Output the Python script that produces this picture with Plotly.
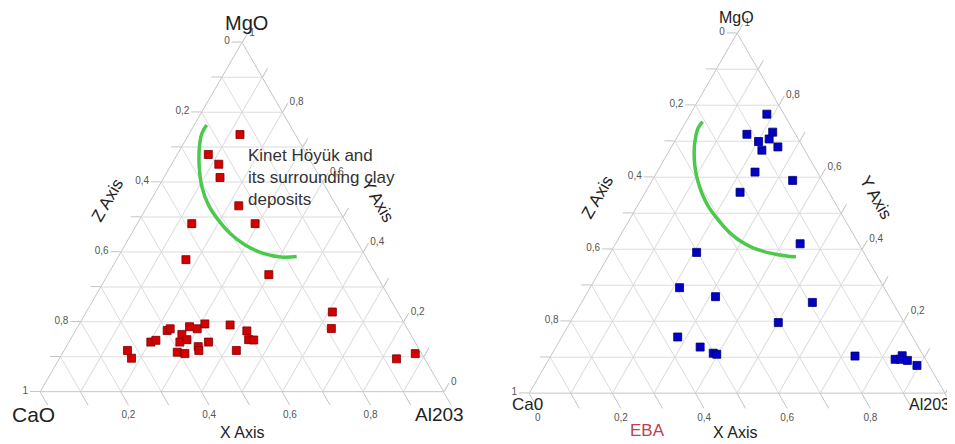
import plotly.graph_objects as go

# ---------------- data (fractions) ----------------
# Left panel: Kinet Höyük samples (red)
kh_mgo = [0.736, 0.679, 0.651, 0.613, 0.532, 0.481, 0.481, 0.378, 0.335, 0.228, 0.181, 0.094, 0.109,
          0.118, 0.096, 0.142, 0.147, 0.175, 0.180, 0.164, 0.142, 0.149, 0.186, 0.180, 0.194,
          0.113, 0.109, 0.129, 0.118, 0.142, 0.191, 0.174, 0.149, 0.148, 0.118]
kh_al2o3 = [0.127, 0.077, 0.117, 0.139, 0.226, 0.135, 0.292, 0.172, 0.399, 0.610, 0.631, 0.836, 0.875,
            0.157, 0.178, 0.203, 0.213, 0.227, 0.232, 0.269, 0.275, 0.289, 0.277, 0.299, 0.311,
            0.283, 0.304, 0.327, 0.334, 0.346, 0.375, 0.425, 0.442, 0.455, 0.427]
kh_cao = [0.137, 0.244, 0.232, 0.248, 0.242, 0.384, 0.227, 0.450, 0.266, 0.162, 0.188, 0.070, 0.016,
          0.725, 0.726, 0.655, 0.640, 0.598, 0.588, 0.567, 0.583, 0.562, 0.537, 0.521, 0.495,
          0.604, 0.587, 0.544, 0.548, 0.512, 0.434, 0.401, 0.409, 0.397, 0.455]

# Right panel: EBA samples (blue)
eba_mgo = [0.775, 0.719, 0.725, 0.699, 0.706, 0.675, 0.684, 0.614, 0.591, 0.558, 0.415, 0.391, 0.293,
           0.268, 0.252, 0.196, 0.156, 0.128, 0.111, 0.108, 0.103, 0.094, 0.104, 0.094, 0.091, 0.077]
eba_al2o3 = [0.184, 0.164, 0.223, 0.202, 0.224, 0.222, 0.256, 0.236, 0.338, 0.228, 0.444, 0.207, 0.215,
             0.314, 0.555, 0.501, 0.279, 0.347, 0.387, 0.397, 0.732, 0.833, 0.845, 0.845, 0.864, 0.894]
eba_cao = [0.041, 0.117, 0.052, 0.099, 0.070, 0.103, 0.060, 0.150, 0.071, 0.214, 0.141, 0.402, 0.492,
           0.418, 0.193, 0.303, 0.565, 0.525, 0.502, 0.495, 0.165, 0.073, 0.051, 0.061, 0.045, 0.029]

# Hand-drawn green boundary curves
left_curve_mgo = [0.763, 0.739, 0.701, 0.644, 0.587, 0.534, 0.491, 0.453, 0.420, 0.396, 0.385, 0.387]
left_curve_al2o3 = [0.031, 0.031, 0.044, 0.072, 0.107, 0.150, 0.196, 0.244, 0.298, 0.354, 0.410, 0.442]
left_curve_cao = [0.206, 0.230, 0.255, 0.284, 0.306, 0.316, 0.313, 0.303, 0.282, 0.250, 0.205, 0.171]

right_curve_mgo = [0.754, 0.736, 0.704, 0.667, 0.629, 0.593, 0.556, 0.518, 0.486, 0.454, 0.426, 0.403, 0.389, 0.381, 0.379]
right_curve_al2o3 = [0.040, 0.038, 0.047, 0.063, 0.084, 0.108, 0.137, 0.172, 0.208, 0.248, 0.290, 0.338, 0.385, 0.428, 0.452]
right_curve_cao = [0.206, 0.226, 0.249, 0.270, 0.287, 0.299, 0.307, 0.310, 0.306, 0.298, 0.284, 0.259, 0.226, 0.191, 0.169]

# Ticks (labels read as in the original, which runs opposite to plotly's orientation)
tick_values = [0, 0.1, 0.2, 0.3, 0.4, 0.5, 0.6, 0.7, 0.8, 0.9, 1.0]
tick_labels = ["1", "", "0,8", "", "0,6", "", "0,4", "", "0,2", "", "0"]
tick_labels_left_bottom = ["", "", "0,8", "", "0,6", "", "0,4", "", "0,2", "", ""]
tick_labels_right_side = ["1", "", "0,8", "", "0,6", "", "0,4", "", "0,2", "", ""]

FONT = "Liberation Sans, Arial, sans-serif"
GRID = "#dcdcdc"
LINE = "#c4c4c4"

# the page body adds an 8px margin; the figure is sized/positioned to compensate
OFF = 8
W, H = 955 - OFF, 444 - OFF


def px_x(x):
    return (x - OFF) / W


def px_y(y):
    return 1 - (y - OFF) / H


fig = go.Figure()

fig.add_trace(go.Scatterternary(
    a=left_curve_mgo, b=left_curve_cao, c=left_curve_al2o3, subplot="ternary",
    mode="lines", line=dict(color="#4cc94c", width=3.5, shape="spline"),
    hoverinfo="skip", showlegend=False))
fig.add_trace(go.Scatterternary(
    a=kh_mgo, b=kh_cao, c=kh_al2o3, subplot="ternary",
    mode="markers", marker=dict(symbol="square", size=8, color="#d40000",
                                line=dict(color="#7a0000", width=0.8)),
    showlegend=False))

fig.add_trace(go.Scatterternary(
    a=right_curve_mgo, b=right_curve_cao, c=right_curve_al2o3, subplot="ternary2",
    mode="lines", line=dict(color="#4cc94c", width=3.5, shape="spline"),
    hoverinfo="skip", showlegend=False))
fig.add_trace(go.Scatterternary(
    a=eba_mgo, b=eba_cao, c=eba_al2o3, subplot="ternary2",
    mode="markers", marker=dict(symbol="square", size=8, color="#0000c8",
                                line=dict(color="#00006a", width=0.8)),
    showlegend=False))


def axis(labels, ticklen=10):
    return dict(
        tickmode="array", tickvals=tick_values, ticktext=labels,
        ticks="outside", ticklen=ticklen, tickcolor=LINE, tickwidth=1,
        tickfont=dict(family=FONT, size=10, color="#555"),
        showgrid=True, gridcolor=GRID, gridwidth=1,
        showline=True, linecolor=LINE, linewidth=1, title=dict(text=""),
    )


fig.update_layout(
    width=W, height=H,
    margin=dict(l=0, r=0, t=0, b=0),
    paper_bgcolor="white",
    font=dict(family=FONT, color="#222"),
    ternary=dict(
        sum=1, bgcolor="white",
        domain=dict(x=[px_x(40), px_x(444)], y=[px_y(391.7), px_y(42.3)]),
        aaxis=axis(tick_labels), baxis=axis(tick_labels_left_bottom, 15), caxis=axis(tick_labels),
    ),
    ternary2=dict(
        sum=1, bgcolor="white",
        domain=dict(x=[px_x(529.3), px_x(945)], y=[px_y(393.3), px_y(33)]),
        aaxis=axis(tick_labels), baxis=axis(tick_labels, 17), caxis=axis(tick_labels_right_side),
    ),
)

ann = []


def text(x, y, s, size, angle=0, color="#222", xanchor="center", yanchor="middle", align="center"):
    ann.append(dict(x=px_x(x), y=px_y(y), xref="paper", yref="paper", text=s,
                    showarrow=False, textangle=angle, xanchor=xanchor, yanchor=yanchor,
                    align=align, font=dict(family=FONT, size=size, color=color)))


# left panel labels
text(246, 23, "MgO", 20)
text(33, 414, "CaO", 21)
text(439, 414, "Al203", 19)
text(242, 432, "X Axis", 16)
text(107, 200, "Z Axis", 17, angle=-60)
text(378, 200, "Y Axis", 17, angle=60)
text(246, 144, "Kinet Höyük and<br>its surrounding clay<br>deposits", 17,
     color="#333", xanchor="left", yanchor="top", align="left")

# right panel labels
text(736, 18, "MgO", 16)
text(527, 404, "Ca0", 17)
text(929, 404, "Al203", 16)
text(735, 432, "X Axis", 16)
text(597, 197, "Z Axis", 17, angle=-60)
text(876, 197, "Y Axis", 17, angle=60)
text(647, 430, "EBA", 17, color="#c0404c")

fig.update_layout(annotations=ann)

fig.write_html("out.html")
